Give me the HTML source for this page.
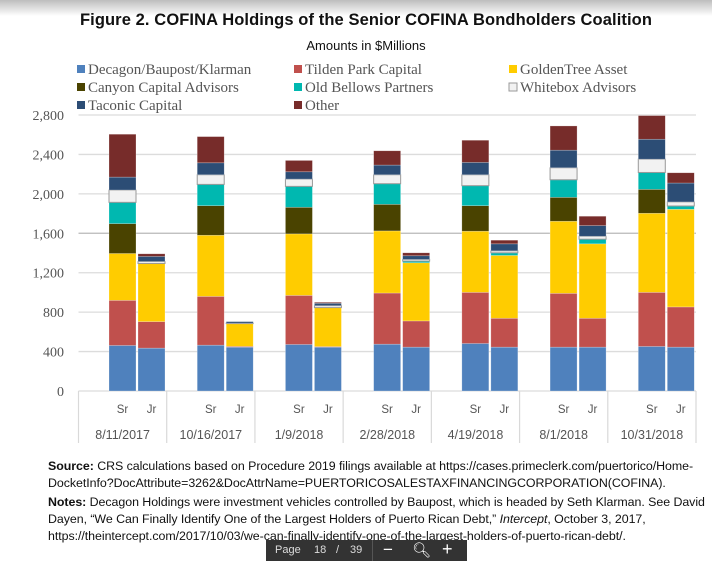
<!DOCTYPE html>
<html><head><meta charset="utf-8"><style>
body{margin:0;width:712px;height:561px;overflow:hidden;background:#fff;font-family:"Liberation Sans",sans-serif;position:relative}
.shade{position:absolute;left:0;top:0;width:712px;height:16px;background:linear-gradient(#bdbdbd,#fff)}
.title{position:absolute;top:11px;left:10px;width:712px;text-align:center;font-weight:bold;font-size:16.5px;color:#111;letter-spacing:0.1px}
.sub{position:absolute;top:38px;left:10px;width:712px;text-align:center;font-size:13px;color:#111}
.foot{position:absolute;left:48px;font-size:12.4px;color:#111;letter-spacing:-0.05px;white-space:nowrap}
.bar{position:absolute;left:266px;top:540px;width:201px;height:21px;background:#333;color:#ddd;font-size:11px}
</style></head><body>
<div class="shade"></div>
<div class="title">Figure 2. COFINA Holdings of the Senior COFINA Bondholders Coalition</div>
<div class="sub">Amounts in $Millions</div>
<svg id="chart" width="712" height="460" style="position:absolute;left:0;top:0"></svg>
<div class="foot" style="top:459px"><b>Source:</b> CRS calculations based on Procedure 2019 filings available at https://cases.primeclerk.com/puertorico/Home-</div>
<div class="foot" style="top:476px">DocketInfo?DocAttribute=3262&amp;DocAttrName=PUERTORICOSALESTAXFINANCINGCORPORATION(COFINA).</div>
<div class="foot" style="top:495px"><b>Notes:</b> Decagon Holdings were investment vehicles controlled by Baupost, which is headed by Seth Klarman. See David</div>
<div class="foot" style="top:512px">Dayen, “We Can Finally Identify One of the Largest Holders of Puerto Rican Debt,” <i>Intercept</i>, October 3, 2017,</div>
<div class="foot" style="top:529px">https://theintercept.com/2017/10/03/we-can-finally-identify-one-of-the-largest-holders-of-puerto-rican-debt/.</div>
<div class="bar">
<span style="position:absolute;left:9px;top:4px">Page</span>
<span style="position:absolute;left:48px;top:4px">18</span>
<span style="position:absolute;left:70px;top:4px">/</span>
<span style="position:absolute;left:84px;top:4px">39</span>
<span style="position:absolute;left:106px;top:0;width:1px;height:21px;background:#555"></span>
<span style="position:absolute;left:117px;top:0px;font-size:17px;color:#fff">−</span>
<span style="position:absolute;left:146px;top:1px;font-size:15px;color:#fff">&#x1F50D;&#xFE0E;</span>
<span style="position:absolute;left:176px;top:-1px;font-size:18px;color:#fff">+</span>
</div>
<script>
const dates=["8/11/2017","10/16/2017","1/9/2018","2/28/2018","4/19/2018","8/1/2018","10/31/2018"];
const seriesNames=["Decagon/Baupost/Klarman","Tilden Park Capital","GoldenTree Asset","Canyon Capital Advisors","Old Bellows Partners","Whitebox Advisors","Taconic Capital","Other"];
const colors=["#4f81bd","#c0504d","#ffcc00","#4a4300","#00b8b0","#f2f2f2","#2c4d75","#772c2a"];
// Sr values per series, per date
const srDecagon=[462,465,472,475,482,445,452];
const srTilden=[458,495,498,519,519,546,549];
const srGolden=[475,620,624,630,620,731,802];
const srCanyon=[303,300,270,270,259,243,243];
const srBellows=[216,216,212,209,203,178,171];
const srWhitebox=[125,98,74,91,111,122,135];
const srTaconic=[131,121,74,98,125,178,202];
const srOther=[435,266,115,145,225,246,240];
// Jr values
const jrDecagon=[435,445,445,445,445,445,445];
const jrTilden=[269,8,6,266,293,293,408];
const jrGolden=[590,231,395,590,637,755,990];
const jrCanyon=[0,0,0,0,0,0,0];
const jrBellows=[0,0,0,17,27,47,34];
const jrWhitebox=[20,5,20,17,20,30,41];
const jrTaconic=[51,15,24,37,71,108,192];
const jrOther=[27,0,10,30,37,95,104];
const yTicks=[0,400,800,1200,1600,2000,2400,2800];
const sr=[srDecagon,srTilden,srGolden,srCanyon,srBellows,srWhitebox,srTaconic,srOther];
const jr=[jrDecagon,jrTilden,jrGolden,jrCanyon,jrBellows,jrWhitebox,jrTaconic,jrOther];
const svg=document.getElementById('chart');const NS='http://www.w3.org/2000/svg';
const X0=78.5,X1=696,Y0=391,Y1=115,YMAX=2800;
const y=v=>Y0-(v/YMAX)*(Y0-Y1);
const gw=(X1-X0)/dates.length;
function mk(t,a,txt){const e=document.createElementNS(NS,t);for(const k in a)e.setAttribute(k,a[k]);if(txt!==undefined)e.textContent=txt;svg.appendChild(e);return e;}
yTicks.forEach(t=>{
 const g=mk('line',{x1:X0,x2:X1,y1:y(t),y2:y(t),stroke:t===1600?'#b8b8b8':'#dcdcdc','stroke-width':t===0?1.2:1.3});
 
 
 const l=mk('text',{x:64,y:y(t)+5,'text-anchor':'end','font-family':'Liberation Serif, serif','font-size':14,fill:'#555'},t.toLocaleString('en-US'));
 
 
});
for(let i=0;i<=dates.length;i++){
 const v=mk('line',{x1:X0+i*gw,x2:X0+i*gw,y1:Y0,y2:443,stroke:'#d9d9d9','stroke-width':1.2});
 
 
}
function stack(vals,d,xl,kind){
 let acc=0;
 vals.forEach((s,k)=>{
  const v=s[d];if(v<=0)return;
  const r=mk('rect',{x:xl,y:y(acc+v),width:27,height:y(acc)-y(acc+v),fill:colors[k],stroke:k===5?'#999':'rgba(255,255,255,0.4)','stroke-width':k===5?1:0.6});
  
  
  acc+=v;
 });
}
dates.forEach((dt,d)=>{
 const gx=X0+d*gw;
 stack(sr,d,gx+30.5,'sr');stack(jr,d,gx+59.5,'jr');
 const a=mk('text',{x:gx+44,y:413,'text-anchor':'middle','font-size':11.5,fill:'#555'},'Sr');
 
 
 const b=mk('text',{x:gx+73,y:413,'text-anchor':'middle','font-size':11.5,fill:'#555'},'Jr');
 
 
 const c=mk('text',{x:gx+gw/2,y:439,'text-anchor':'middle','font-size':12.5,fill:'#555'},dt);
 
 
});
const lx=[77,294,509],ly=[70,88,106];
seriesNames.forEach((n,i)=>{
 const cx=lx[i%3],cy=ly[Math.floor(i/3)];
 const s=mk('rect',{x:cx,y:cy-5,width:8,height:8,fill:colors[i],stroke:i===5?'#999':'none'});
 
 
 const t=mk('text',{x:cx+11,y:cy+4,'font-family':'Liberation Serif, serif','font-size':15,fill:'#555'},n);
 
 
});
</script>
</body></html>
